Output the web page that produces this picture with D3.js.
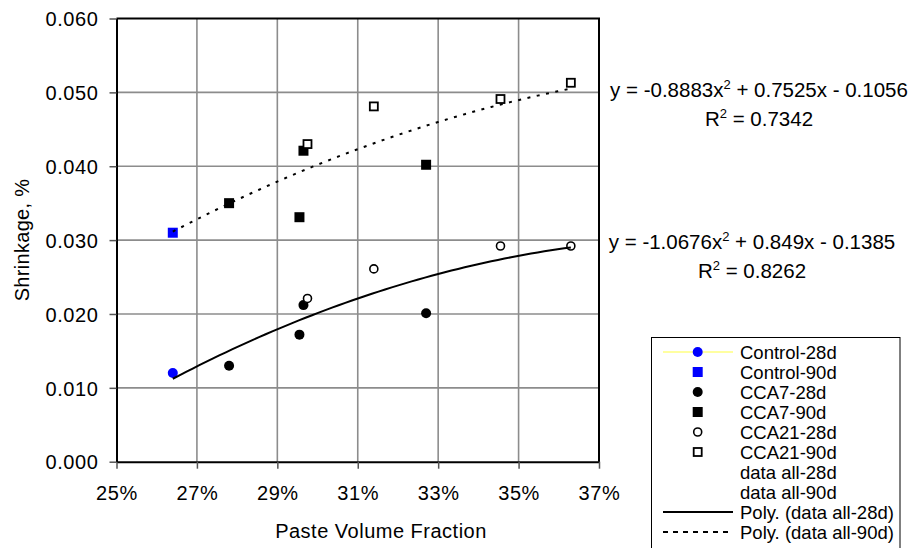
<!DOCTYPE html>
<html>
<head>
<meta charset="utf-8">
<script src="https://cdn.jsdelivr.net/npm/d3@7"></script>
<style>
  body { margin: 0; background: #fff; }
  svg { font-family: "Liberation Sans", Arial, sans-serif; }
</style>
</head>
<body>
<svg id="chart" width="914" height="548"></svg>
<script>
// series values (paste volume fraction, shrinkage %)
var control28 = [[0.264, 0.0120]];
var control90 = [[0.264, 0.0310]];
var cca7x = [0.278, 0.2965, 0.2955, 0.327];
var cca7_28 = [0.0130, 0.0212, 0.0172, 0.0201];
var cca7_90 = [0.0350, 0.0421, 0.0331, 0.0402];
var cca21x = [0.2975, 0.314, 0.3455, 0.363];
var cca21_28 = [0.0221, 0.0261, 0.0292, 0.0292];
var cca21_90 = [0.0430, 0.0481, 0.0491, 0.0513];

// trendline coefficients as printed on the chart (a x^2 + b x + c)
var poly28 = [-1.0676, 0.849, -0.1385];
var poly90 = [-0.8883, 0.7525, -0.1056];
var polyRange = [0.264, 0.363];

var xTicks = [0.25, 0.27, 0.29, 0.31, 0.33, 0.35, 0.37];
var yTicks = [0, 0.01, 0.02, 0.03, 0.04, 0.05, 0.06];

var legendLabels = ["Control-28d", "Control-90d", "CCA7-28d", "CCA7-90d", "CCA21-28d",
    "CCA21-90d", "data all-28d", "data all-90d", "Poly. (data all-28d)", "Poly. (data all-90d)"];

var svg = d3.select("#chart");

var x = d3.scaleLinear().domain([0.25, 0.37]).range([116.5, 599]);
var y = d3.scaleLinear().domain([0, 0.06]).range([461.7, 18.5]);

// gridlines
svg.append("g").selectAll("line").data(xTicks.slice(1, -1)).enter().append("line")
    .attr("x1", function (d) { return x(d); }).attr("x2", function (d) { return x(d); })
    .attr("y1", y(0.06)).attr("y2", y(0))
    .attr("stroke", "#8c8c8c").attr("stroke-width", 1.6);
svg.append("g").selectAll("line").data(yTicks.slice(1, -1)).enter().append("line")
    .attr("x1", x(0.25)).attr("x2", x(0.37))
    .attr("y1", function (d) { return y(d); }).attr("y2", function (d) { return y(d); })
    .attr("stroke", "#8c8c8c").attr("stroke-width", 1.6);

// axes
var xAxis = svg.append("g").attr("transform", "translate(0," + y(0) + ")")
    .call(d3.axisBottom(x).tickValues(xTicks).tickSize(7).tickSizeOuter(0)
        .tickFormat(function (d) { return Math.round(d * 100) + "%"; }));
var yAxis = svg.append("g").attr("transform", "translate(" + x(0.25) + ",0)")
    .call(d3.axisLeft(y).tickValues(yTicks).tickSize(7).tickSizeOuter(0)
        .tickFormat(d3.format(".3f")));

[xAxis, yAxis].forEach(function (a) {
    a.select(".domain").attr("stroke", "#000").attr("stroke-width", 2);
    a.selectAll(".tick line").attr("stroke", "#555").attr("stroke-width", 1.5);
    a.selectAll(".tick text").attr("fill", "#000").style("font-size", "20px")
        .style("letter-spacing", "0.6px")
        .style("font-family", "'Liberation Sans', Arial, sans-serif");
});
xAxis.selectAll(".tick text").attr("y", 10).attr("dy", 28);
yAxis.selectAll(".tick text").attr("x", -18).attr("dy", "0.36em");

// top and right border
svg.append("path")
    .attr("d", "M" + x(0.25) + "," + y(0.06) + "H" + x(0.37) + "V" + y(0))
    .attr("fill", "none").attr("stroke", "#000").attr("stroke-width", 2);

// axis titles
svg.append("text").attr("x", 381).attr("y", 538).attr("text-anchor", "middle")
    .style("font-size", "20px").style("letter-spacing", "0.5px").text("Paste Volume Fraction");
svg.append("text").attr("transform", "translate(29,240) rotate(-90)")
    .attr("text-anchor", "middle").style("font-size", "20px").style("letter-spacing", "0.3px").text("Shrinkage, %");

// markers
function circles(pts, fill, r) {
    svg.append("g").selectAll("circle").data(pts).enter().append("circle")
        .attr("cx", function (d) { return x(d[0]); }).attr("cy", function (d) { return y(d[1]); })
        .attr("r", r).attr("fill", fill)
        .attr("stroke", fill == "#fff" ? "#000" : "none").attr("stroke-width", 1.6);
}
function squares(pts, fill, s) {
    svg.append("g").selectAll("rect").data(pts).enter().append("rect")
        .attr("x", function (d) { return x(d[0]) - s / 2; }).attr("y", function (d) { return y(d[1]) - s / 2; })
        .attr("width", s).attr("height", s).attr("fill", fill)
        .attr("stroke", fill == "#fff" ? "#000" : "none").attr("stroke-width", 1.8);
}
function zip(xs, ys) { return xs.map(function (v, i) { return [v, ys[i]]; }); }

circles(control28, "#0000ff", 5);
squares(control90, "#0000ff", 10);
circles(zip(cca7x, cca7_28), "#000", 5);
squares(zip(cca7x, cca7_90), "#000", 10);
circles(zip(cca21x, cca21_28), "#fff", 4);
squares(zip(cca21x, cca21_90), "#fff", 8);

// polynomial trendlines
function polyPts(c) {
    var n = 60, pts = [];
    for (var i = 0; i <= n; i++) {
        var v = polyRange[0] + (polyRange[1] - polyRange[0]) * i / n;
        pts.push([v, c[0] * v * v + c[1] * v + c[2]]);
    }
    return pts;
}
var line = d3.line().x(function (d) { return x(d[0]); }).y(function (d) { return y(d[1]); });
svg.append("path").attr("d", line(polyPts(poly28)))
    .attr("fill", "none").attr("stroke", "#000").attr("stroke-width", 2);
svg.append("path").attr("d", line(polyPts(poly90)))
    .attr("fill", "none").attr("stroke", "#000").attr("stroke-width", 2).attr("stroke-dasharray", "3,6.5");

// equations
function equation(cx, cy, parts, r2) {
    var t = svg.append("text").attr("x", cx).attr("y", cy).attr("text-anchor", "middle")
        .style("font-size", "20.5px");
    t.append("tspan").text(parts[0]);
    t.append("tspan").attr("dy", -8).style("font-size", "13px").text("2");
    t.append("tspan").attr("dy", 8).text(parts[1]);
    var t2 = svg.append("text").attr("x", cx).attr("y", cy + 29).attr("text-anchor", "middle")
        .style("font-size", "20.5px");
    t2.append("tspan").text("R");
    t2.append("tspan").attr("dy", -8).style("font-size", "13px").text("2");
    t2.append("tspan").attr("dy", 8).text(" = " + r2);
}
equation(759, 97, ["y = -0.8883x", " + 0.7525x - 0.1056"], "0.7342");
equation(752, 249, ["y = -1.0676x", " + 0.849x - 0.1385"], "0.8262");

// legend
var lg = svg.append("g");
lg.append("rect").attr("x", 651.5).attr("y", 337.5).attr("width", 248.5).attr("height", 230)
    .attr("fill", "#fff").attr("stroke", "#000").attr("stroke-width", 1);
var ly = d3.scaleLinear().domain([0, 1]).range([352, 372]);
var sx = 697.7;
lg.append("line").attr("x1", 663).attr("x2", 733).attr("y1", ly(0)).attr("y2", ly(0))
    .attr("stroke", "#ffff80").attr("stroke-width", 1.5);
lg.append("circle").attr("cx", sx).attr("cy", ly(0)).attr("r", 5).attr("fill", "#0000ff");
lg.append("rect").attr("x", sx - 5).attr("y", ly(1) - 5).attr("width", 10).attr("height", 10).attr("fill", "#0000ff");
lg.append("circle").attr("cx", sx).attr("cy", ly(2)).attr("r", 5).attr("fill", "#000");
lg.append("rect").attr("x", sx - 5).attr("y", ly(3) - 5).attr("width", 10).attr("height", 10).attr("fill", "#000");
lg.append("circle").attr("cx", sx).attr("cy", ly(4)).attr("r", 4).attr("fill", "#fff").attr("stroke", "#000").attr("stroke-width", 1.6);
lg.append("rect").attr("x", sx - 4).attr("y", ly(5) - 4).attr("width", 8).attr("height", 8).attr("fill", "#fff").attr("stroke", "#000").attr("stroke-width", 1.8);
lg.append("line").attr("x1", 663).attr("x2", 733).attr("y1", ly(8)).attr("y2", ly(8))
    .attr("stroke", "#000").attr("stroke-width", 2);
lg.append("line").attr("x1", 663).attr("x2", 733).attr("y1", ly(9)).attr("y2", ly(9))
    .attr("stroke", "#000").attr("stroke-width", 2).attr("stroke-dasharray", "5,5");
lg.selectAll("text.lbl").data(legendLabels).enter().append("text").attr("class", "lbl")
    .attr("x", 740).attr("y", function (d, i) { return ly(i); }).attr("dy", "0.36em")
    .style("font-size", "18.5px").text(function (d) { return d; });
</script>
</body>
</html>
